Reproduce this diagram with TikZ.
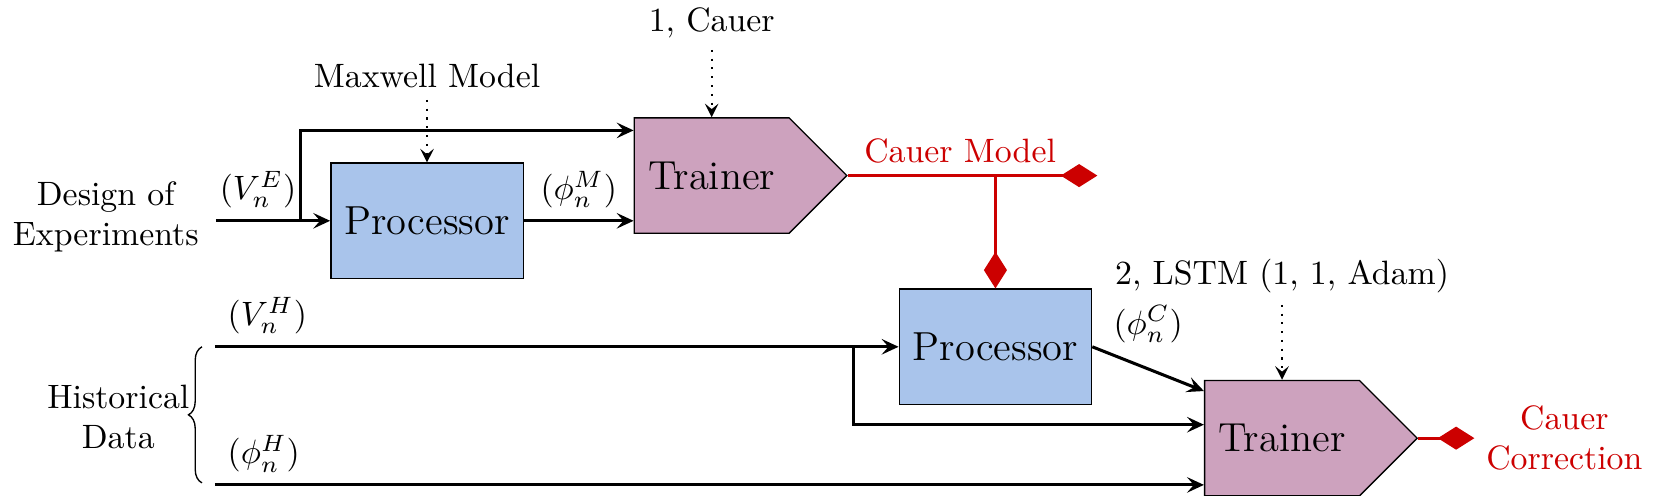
\documentclass[tikz,border=0pt]{standalone}
\usepackage{amsmath,amssymb}
\usetikzlibrary{arrows.meta,positioning,calc,shapes.symbols,decorations.pathreplacing}
\definecolor{procblue}{RGB}{169,196,235}
\definecolor{trainpink}{RGB}{205,162,190}
\definecolor{cauerred}{RGB}{204,0,0}

\begin{document}
\begin{tikzpicture}[
  proc/.style={draw,fill=procblue,minimum width=2cm,minimum height=1.2cm,font=\large},
  trainer/.style={draw,fill=trainpink,shape=signal,signal to=east,signal pointer angle=90,
    minimum width=2.21cm,minimum height=1.2cm,font=\large},
  flow/.style={line width=0.9pt,-{Stealth[length=5pt,width=4.6pt,inset=2pt]}},
  hint/.style={dotted,semithick,-{Stealth[length=4pt,width=4pt,inset=1.6pt]}},
  result/.style={line width=0.9pt,cauerred,-{Diamond[length=0.38cm,width=0.24cm]}}
]
  \useasboundingbox (0,0) rectangle (17.26,5.156);

  \node[proc] (p1) at (4.44,2.86) {Processor};
  \node[trainer] (t1) at (7.40,3.33) {Trainer};
  \node[proc] (p2) at (10.35,1.55) {Processor};
  \node[trainer] (t2) at (13.33,0.60) {Trainer};

  \node[align=center] (doe) at (1.10,2.90) {Design of\\Experiments};
  \node[align=center] (hist) at (1.23,0.82) {Historical\\Data};
  \node[above=0.65cm of p1] (maxwell) {Maxwell Model};
  \node[above=0.70cm of t1] (cauer) {1, Cauer};
  \node[above=0.78cm of t2] (lstm) {2, LSTM (1, 1, Adam)};

  \coordinate (doein) at (2.245,2.86);
  \coordinate (br1) at (3.12,2.86);
  \coordinate (vh) at (2.235,1.55);
  \coordinate (br2) at (8.87,1.55);
  \coordinate (phih) at (2.235,0.114);
  \coordinate (cm) at (11.41,3.33);
  \coordinate (cc) at (15.33,0.60);

  \draw[decorate,decoration={brace,amplitude=4pt}] (2.10,0.135) -- (2.10,1.55);

  \draw[flow] (doein) -- node[above] {$(V_n^E)$} (br1) -- (p1.west);
  \draw[flow] (br1) |- ($(t1.west)+(0,0.47)$);
  \draw[flow] (p1.east) -- node[above] {$(\phi_n^M)$} (p1.east -| t1.west);
  \draw[flow] (vh) node[above right] {$(V_n^H)$} -- (br2) -- (p2.west);
  \draw[flow] (br2) |- ($(t2.west)+(0,0.14)$);
  \draw[flow] (p2.east) -- node[above=4pt] {$(\phi_n^C)$} ($(t2.west)+(0,0.49)$);
  \draw[flow] (phih) node[above right] {$(\phi_n^H)$} -- (phih -| t2.west);

  \draw[hint] (maxwell) -- (p1);
  \draw[hint] (cauer) -- (t1.north);
  \draw[hint] (lstm) -- (t2.north);

  \draw[result] (t1.east) -- node[above,pos=0.45] {Cauer Model} (cm);
  \draw[result] (t1.east -| p2.north) -- (p2.north);
  \draw[result] (t2.east) -- (cc);
  \node[right,align=center,text=cauerred] (corr) at (cc) {Cauer\\Correction};
\end{tikzpicture}
\end{document}
